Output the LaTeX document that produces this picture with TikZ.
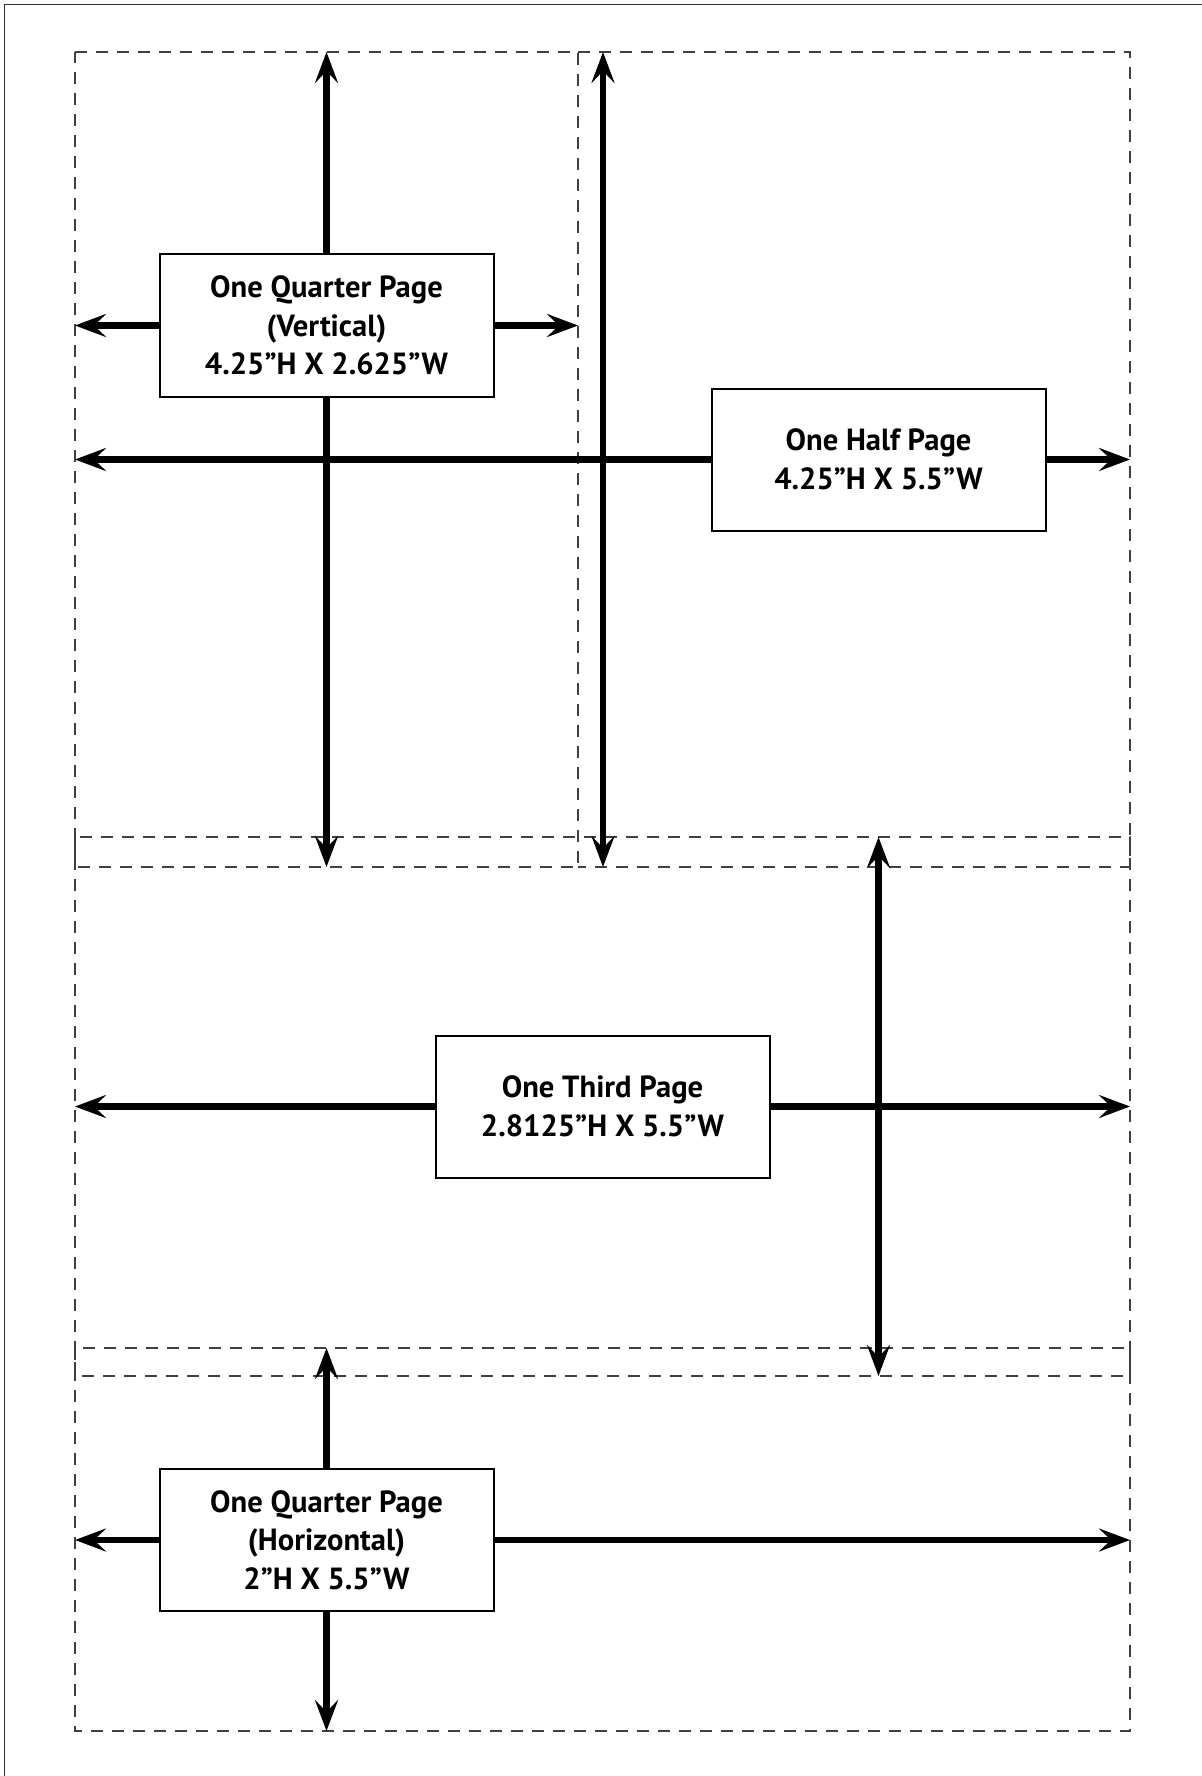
\documentclass[tikz,border=0pt]{standalone}
\usepackage{fontspec}
\setmainfont{PT Sans}
\usetikzlibrary{arrows.meta}
\definecolor{dashcol}{HTML}{404040}
\definecolor{framecol}{HTML}{303030}
\tikzset{
  area/.style={draw=dashcol, line width=0.75pt, dash pattern=on 6pt off 4.5pt},
  dimarrow/.style={line width=3.3pt, -{Stealth[length=15.5pt, width=11.5pt, inset=6pt]}},
  dimboth/.style={line width=3.3pt, {Stealth[length=15.5pt, width=11.5pt, inset=6pt]}-{Stealth[length=15.5pt, width=11.5pt, inset=6pt]}},
  sizebox/.style={draw=black, line width=1pt, fill=white, minimum width=167pt, minimum height=71pt,
    inner sep=0pt, align=center, font=\bfseries\fontsize{15.3}{19.25}\selectfont}
}
\begin{document}
\begin{tikzpicture}[x=0.5pt, y=-0.5pt]
\useasboundingbox (0,0) rectangle (1201,1776);
% outer frame (right and bottom edges lie outside the page)
\draw[framecol, line width=0.8pt] (4.5,4.5) rectangle (1240,1800);

% dashed page areas
\draw[area] (75,52) -- (578,52) -- (578,867) -- (75,867) -- cycle;
\draw[area] (578,52) -- (1130,52) -- (1130,867) -- (578,867);
\draw[area] (75,837) rectangle (1130,1376);
\draw[area] (75,1348) rectangle (1130,1731);

% end points of the dimension arrows
\coordinate (qvT) at (326.5,52);
\coordinate (qvB) at (326.5,867);
\coordinate (qvL) at (75,325.5);
\coordinate (qvR) at (578,325.5);
\coordinate (hfT) at (603,52);
\coordinate (hfB) at (603,867);
\coordinate (hfL) at (75,459.5);
\coordinate (hfR) at (1130,459.5);
\coordinate (thT) at (878.5,837);
\coordinate (thB) at (878.5,1376);
\coordinate (thL) at (75,1106.5);
\coordinate (thR) at (1130,1106.5);
\coordinate (qhT) at (326.5,1348);
\coordinate (qhB) at (326.5,1731);
\coordinate (qhL) at (75,1540);
\coordinate (qhR) at (1130,1540);

% boxes
\node[sizebox] (qv) at (326.5,325.5) {One Quarter Page\\(Vertical)\\4.25”H X 2.625”W};
\node[sizebox] (hf) at (878.5,459.5) {One Half Page\\4.25”H X 5.5”W};
\node[sizebox] (th) at (602.5,1106.5) {One Third Page\\2.8125”H X 5.5”W};
\node[sizebox] (qh) at (326.5,1540) {One Quarter Page\\(Horizontal)\\2”H X 5.5”W};

% arrows
\draw[dimarrow] (qv.north) -- (qvT);
\draw[dimarrow] (qv.south) -- (qvB);
\draw[dimarrow] (qv.west) -- (qvL);
\draw[dimarrow] (qv.east) -- (qvR);

\draw[dimboth] (hfT) -- (hfB);
\draw[dimarrow] (hf.west) -- (hfL);
\draw[dimarrow] (hf.east) -- (hfR);

\draw[dimboth] (thT) -- (thB);
\draw[dimarrow] (th.west) -- (thL);
\draw[dimarrow] (th.east) -- (thR);

\draw[dimarrow] (qh.north) -- (qhT);
\draw[dimarrow] (qh.south) -- (qhB);
\draw[dimarrow] (qh.west) -- (qhL);
\draw[dimarrow] (qh.east) -- (qhR);
\end{tikzpicture}
\end{document}
